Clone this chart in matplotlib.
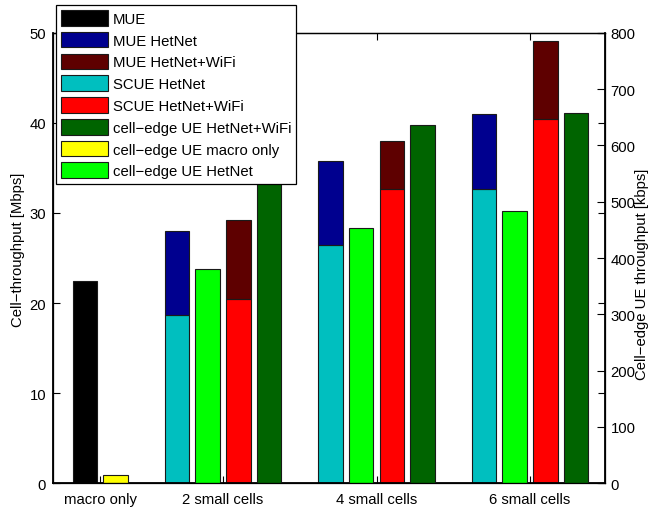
import matplotlib.pyplot as plt
from matplotlib.patches import Patch

plt.rcParams['font.family'] = ['Liberation Sans', 'DejaVu Sans']
plt.rcParams['font.size'] = 10.7

groups = ["macro only", "2 small cells", "4 small cells", "6 small cells"]
group_x = [1.2, 2, 3, 4]

# left axis [Mbps]
mue_macro = 22.4
scue_het = [18.7, 26.5, 32.7]
mue_het = [28.0, 35.8, 41.0]          # stacked top
scue_wifi = [20.5, 32.7, 40.4]
mue_wifi = [29.2, 38.0, 49.1]         # stacked top

# right axis [kbps]
edge_macro = 14
edge_het = [381, 453, 484]
edge_wifi = [551, 636, 657]

c_mue = "#000000"
c_mue_het = "#00008F"
c_mue_wifi = "#5E0000"
c_scue_het = "#00BFBF"
c_scue_wifi = "#FF0000"
c_edge_wifi = "#006400"
c_edge_macro = "#FFFF00"
c_edge_het = "#00FF00"

w = 0.16
ec = "#1a1a1a"
lw = 0.8

fig = plt.figure(figsize=(6.53, 5.10), dpi=100)
ax1 = fig.add_axes([53/653, 1 - 484.3/510, 552/653, 450.5/510])
ax2 = ax1.twinx()

# macro only group
ax1.bar(group_x[0] - 0.1, mue_macro, w, color=c_mue, edgecolor=ec, linewidth=lw)
ax2.bar(group_x[0] + 0.1, edge_macro, w, color=c_edge_macro, edgecolor=ec, linewidth=lw)

# small cell groups
xs = group_x[1:]
for i, x in enumerate(xs):
    ax1.bar(x - 0.3, scue_het[i], w, color=c_scue_het, edgecolor=ec, linewidth=lw)
    ax1.bar(x - 0.3, mue_het[i] - scue_het[i], w, bottom=scue_het[i],
            color=c_mue_het, edgecolor=ec, linewidth=lw)
    ax2.bar(x - 0.1, edge_het[i], w, color=c_edge_het, edgecolor=ec, linewidth=lw)
    ax1.bar(x + 0.1, scue_wifi[i], w, color=c_scue_wifi, edgecolor=ec, linewidth=lw)
    ax1.bar(x + 0.1, mue_wifi[i] - scue_wifi[i], w, bottom=scue_wifi[i],
            color=c_mue_wifi, edgecolor=ec, linewidth=lw)
    ax2.bar(x + 0.3, edge_wifi[i], w, color=c_edge_wifi, edgecolor=ec, linewidth=lw)

ax1.set_xlim(0.8925, 4.4886)
ax1.set_ylim(0, 50)
ax2.set_ylim(0, 800)
ax1.set_yticks(range(0, 51, 10))
ax2.set_yticks(range(0, 801, 100))
ax1.set_xticks(group_x)
ax1.set_xticklabels(groups)

ax1.tick_params(direction='in', length=5, width=0.8, top=True, right=True, pad=5)
ax1.tick_params(axis='x', pad=6)
ax2.tick_params(direction='in', length=6, width=0.8, pad=4)

for a in (ax1, ax2):
    for s in a.spines.values():
        s.set_linewidth(0.9)
ax2.spines['right'].set_linewidth(1.3)
ax1.spines['left'].set_linewidth(1.3)
ax1.spines['bottom'].set_linewidth(1.3)

ax1.set_ylabel("Cell\u2212throughput [Mbps]")
ax1.yaxis.set_label_coords(-0.05, 0.52)
ax2.set_ylabel("Cell\u2212edge UE throughput [kbps]")
ax2.yaxis.set_label_coords(1.054, 0.465)

labels = ["MUE", "MUE HetNet", "MUE HetNet+WiFi", "SCUE HetNet", "SCUE HetNet+WiFi",
          "cell\u2212edge UE HetNet+WiFi", "cell\u2212edge UE macro only", "cell\u2212edge UE HetNet"]
colors = [c_mue, c_mue_het, c_mue_wifi, c_scue_het, c_scue_wifi,
          c_edge_wifi, c_edge_macro, c_edge_het]
handles = [Patch(facecolor=c, edgecolor=ec, linewidth=lw) for c in colors]
leg = fig.legend(handles, labels, loc='upper left', bbox_to_anchor=(56/653, 1 - 5.7/510),
                 borderaxespad=0, fancybox=False, framealpha=1, edgecolor='k',
                 handlelength=3.16, handleheight=1.25, handletextpad=0.3,
                 labelspacing=0.4, borderpad=0.35)
leg.get_frame().set_linewidth(0.9)
leg.set_zorder(10)

fig.savefig("out.png", dpi=100)
